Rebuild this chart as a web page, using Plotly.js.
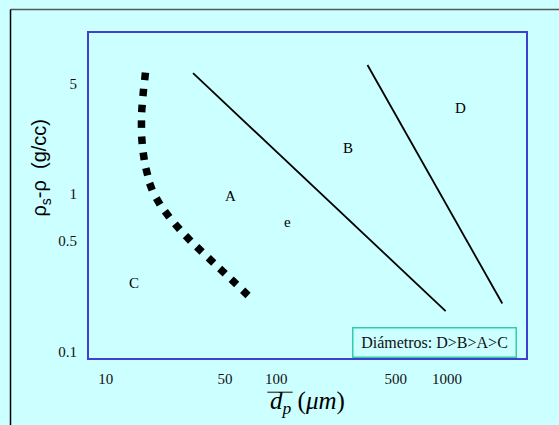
<!DOCTYPE html>
<html>
<head>
<meta charset="utf-8">
<script src="https://cdn.plot.ly/plotly-3.0.1.min.js"></script>
<style>html,body{margin:0;padding:0;background:#ccffff;}#chart{width:559px;height:425px;}</style>
</head>
<body>
<div id="chart"></div>
<script>
// Boundary C/A (dotted curve)
const curveX = [17.0, 16.6, 16.3, 16.2, 16.3, 16.7, 17.4, 18.4, 20.3, 22.9, 26.3, 30.4, 35.4, 41.4, 48.3, 56.4, 65.8];
const curveY = [5.56, 4.40, 3.48, 2.77, 2.19, 1.73, 1.38, 1.11, 0.896, 0.741, 0.618, 0.521, 0.444, 0.378, 0.323, 0.276, 0.235];
// Boundary A/B
const lineABX = [32.5, 982];
const lineABY = [5.84, 0.18];
// Boundary B/D
const lineBDX = [342, 2109];
const lineBDY = [6.57, 0.201];
// Region labels
const labelText = ["A", "B", "C", "D", "e"];
const labelX = [53.8, 264, 14.65, 1197, 116.4];
const labelY = [0.968, 1.965, 0.272, 3.53, 0.665];
// Ticks
const xTickVals = [10, 50, 100, 500, 1000];
const xTickText = ["10", "50", "100", "500", "1000"];
const yTickVals = [0.1, 0.5, 1, 5];
const yTickText = ["0.1", "0.5", "1", "5"];
const legendText = "Diámetros: D>B>A>C";

const serif = "Liberation Serif, Times New Roman, serif";
const bg = "#ccffff";

const traces = [
  {x: curveX, y: curveY, type: "scatter", mode: "markers", hoverinfo: "skip",
   marker: {symbol: "square", size: 7.5, color: "#000",
            angle: [6, 5, 4, 0, -4, -8, -14, -21, -30, -37, -41, -44, -46, -47, -47, -47, -46]}},
  {x: lineABX, y: lineABY, type: "scatter", mode: "lines", line: {color: "#000", width: 1.8}},
  {x: lineBDX, y: lineBDY, type: "scatter", mode: "lines", line: {color: "#000", width: 1.8}}
];

const annotations = labelText.map((t, i) => ({
  x: Math.log10(labelX[i]), y: Math.log10(labelY[i]), xref: "x", yref: "y",
  text: t, showarrow: false, font: {family: serif, size: 15, color: "#000"}
}));
annotations.push({
  xref: "paper", yref: "paper", x: 0.79, y: 0.048, xanchor: "center", yanchor: "middle",
  text: legendText, showarrow: false, font: {family: serif, size: 16, color: "#111"},
  bordercolor: "#33ccaa", borderwidth: 1.5, borderpad: 2, width: 158, height: 24, bgcolor: bg
});
annotations.push({
  xref: "paper", yref: "paper", x: 0, y: 0.586, xshift: -48, xanchor: "center", yanchor: "middle",
  textangle: -90, showarrow: false,
  text: "ρ<sub>s</sub>-ρ\u00a0\u00a0(g/cc)",
  font: {family: "Liberation Sans, Arial, sans-serif", size: 20, color: "#000"}
});

const layout = {
  width: 559, height: 425,
  margin: {l: 89, r: 33, t: 33, b: 67},
  paper_bgcolor: bg, plot_bgcolor: bg,
  showlegend: false,
  xaxis: {
    type: "log", range: [0.902, 3.463],
    tickvals: xTickVals, ticktext: xTickText,
    ticks: "outside", ticklen: 6, tickcolor: "rgba(0,0,0,0)",
    tickfont: {family: serif, size: 15, color: "#111"},
    showgrid: false, zeroline: false,
    showline: true, mirror: true, linecolor: "#4040d0", linewidth: 2,
    title: {text: "<i>d</i><sub><i>p</i></sub>\u00a0(<i>μm</i>)", font: {family: serif, size: 25, color: "#000"}, standoff: 5}
  },
  yaxis: {
    type: "log", range: [-1.0426, 1.021],
    tickvals: yTickVals, ticktext: yTickText,
    ticks: "outside", ticklen: 7, tickcolor: "rgba(0,0,0,0)",
    tickfont: {family: serif, size: 15, color: "#111"},
    showgrid: false, zeroline: false,
    showline: true, mirror: true, linecolor: "#4040d0", linewidth: 2
  },
  annotations: annotations,
  shapes: [
    {type: "line", xref: "paper", yref: "paper", x0: -0.1796, x1: 1.08, y0: 1.0723, y1: 1.0723, line: {color: "#555", width: 1.5}},
    {type: "line", xref: "paper", yref: "paper", x0: -0.1796, x1: -0.1796, y0: 1.0723, y1: -0.21, line: {color: "#000", width: 1.5}},
    {type: "line", xref: "paper", yref: "paper", x0: 0.408, x1: 0.466, y0: -0.1055, y1: -0.1055, line: {color: "#555", width: 1.5}}
  ]
};

Plotly.newPlot("chart", traces, layout, {displayModeBar: false, staticPlot: true});
</script>
</body>
</html>
